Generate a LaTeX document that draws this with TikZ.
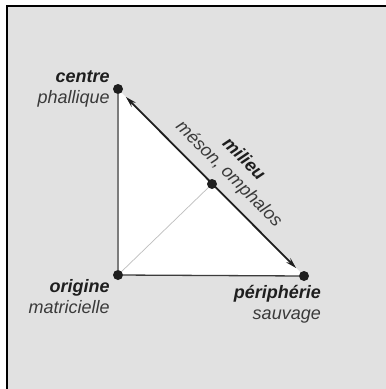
\documentclass[tikz,border=0pt]{standalone}
\usepackage{fontspec}
\setmainfont{Liberation Sans}
\usepackage{xcolor}
\usetikzlibrary{positioning, arrows.meta, calc, backgrounds}
\definecolor{panelgrey}{HTML}{E1E1E1}
\definecolor{edgegrey}{HTML}{7C7C7C}
\definecolor{basegrey}{HTML}{3C3C3C}
\definecolor{faintgrey}{HTML}{BEBEBE}
\definecolor{inkdark}{HTML}{1E1E1E}
\definecolor{inksoft}{HTML}{3A3A3A}
\newcommand{\labelfont}{\fontsize{18}{21}\selectfont\itshape}

\begin{document}
\begin{tikzpicture}[
  x=1pt, y=-1pt,
  dot/.style={
    circle,
    fill=inkdark,
    inner sep=0pt,
    minimum size=10pt,
  },
  cornerlabel/.style={
    font=\labelfont,
    text=inksoft,
    align=right,
    inner sep=0pt,
  },
  slopelabel/.style={
    font=\labelfont,
    text=inksoft,
    align=center,
    rotate=-45,
    inner sep=0pt,
  },
  link/.style={
    {Stealth[length=11pt, width=6pt]}-{Stealth[length=11pt, width=6pt]},
    line width=1.8pt,
    draw=inkdark,
    shorten <=6pt,
    shorten >=6pt,
  },
]
  \useasboundingbox (0,0) rectangle (386,389);

  \node[dot] (centre) at (118,89) {};
  \node[dot] (origine) at (118,275) {};
  \node[dot] (peri) at (304,276) {};
  \node[dot] (milieu) at (212,184) {};

  \node[cornerlabel, left=3pt of centre] (centrelbl)
    {{\color{inkdark}\bfseries centre}\\phallique};
  \node[cornerlabel, below left=0.5pt and 4.5pt of origine] (originelbl)
    {{\color{inkdark}\bfseries origine}\\matricielle};
  \node[cornerlabel, below=4pt of peri, anchor=north east, xshift=17pt] (perilbl)
    {{\color{inkdark}\bfseries périphérie}\\sauvage};
  \node[slopelabel, anchor=south] (milieulbl)
    at ($(milieu)+(10.5,-3.5)$) {{\color{inkdark}\bfseries milieu}\\méson, omphalos};

  \begin{scope}[on background layer]
    \fill[white] (0,0) rectangle (386,389);
    \fill[panelgrey] (7,6) rectangle (386,389);
    \draw[line width=1.5pt] (7,389) -- (7,6) -- (386,6);
    \fill[white] (centre.center) -- (origine.center) -- (peri.center) -- cycle;
  \end{scope}

  \draw[edgegrey, line width=1.2pt] (centre) -- (origine);
  \draw[basegrey, line width=1.3pt] (origine) -- (peri);
  \draw[faintgrey, line width=0.7pt] (origine) -- (milieu);
  \draw[link] (centre) -- (peri);
\end{tikzpicture}
\end{document}
